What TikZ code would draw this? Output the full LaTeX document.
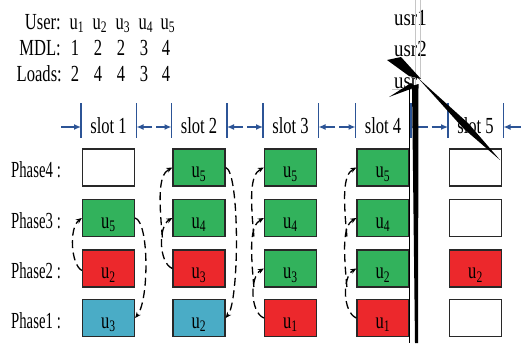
\documentclass[tikz,border=0pt]{standalone}
\usepackage{fontspec}
\setmainfont{Liberation Serif}[FakeStretch=0.72]
\newfontfamily\phfont{Liberation Serif}[FakeStretch=0.64]
\newfontfamily\usrfont{Liberation Serif}[FakeStretch=0.82]
\usetikzlibrary{arrows.meta,calc}
\definecolor{cgreen}{RGB}{50,178,92}
\definecolor{cred}{RGB}{236,40,44}
\definecolor{cblue}{RGB}{74,172,198}
\definecolor{bline}{RGB}{44,84,150}
\definecolor{edgec}{RGB}{40,40,40}
\newcommand\myfs{\fontsize{23}{26}\selectfont}
\begin{document}
\begin{tikzpicture}[x=1pt,y=-1pt,
  box/.style={draw=edgec, line width=1.3pt, minimum width=52pt, minimum height=37pt, inner sep=0pt, text height=20.5pt, text depth=0pt, font=\myfs},
  lbl/.style={inner sep=0pt, font=\myfs},
  sep/.style={draw=bline, line width=1.8pt},
  sarr/.style={draw=bline, line width=1.3pt, -{Latex[length=7pt,width=6pt]}},
  link/.style={draw=black, line width=1.3pt, dash pattern=on 8pt off 4.5pt, -{Stealth[length=6pt,width=5pt]}},
  blk/.style={fill=black, draw=none}]
\fill[white] (0,0) rectangle (521,343);
\useasboundingbox (0,0) rectangle (521,343);

% top table
\node[lbl, anchor=base east] (tU) at (61,29) {User:};
\node[lbl, anchor=base east] (tM) at (61,55) {MDL:};
\node[lbl, anchor=base east] (tL) at (62,81) {Loads:};
\foreach \i/\x/\m/\l in {1/77/1/2, 2/100/2/4, 3/123/2/4, 4/146/3/3, 5/168/4/4}{
  \node[lbl, anchor=base] (u\i) at (\x,29) {u\textsubscript{\i}};
  \node[lbl, anchor=base] (m\i) at (\x-2,55) {\m};
  \node[lbl, anchor=base] (l\i) at (\x-2,81) {\l};
}

% slot headers
\foreach \k/\cx in {1/108.5, 2/199, 3/290.5, 4/383, 5/475.5}{
  \node[lbl, anchor=base] (slot\k) at (\cx,133) {slot \k};
  \coordinate (L\k) at (\cx-27.5,127);
  \coordinate (R\k) at (\cx+28,127);
  \draw[sep] ([yshift=24pt]L\k) -- ([yshift=-11pt]L\k);
  \draw[sep] ([yshift=24pt]R\k) -- ([yshift=-11pt]R\k);
}
\coordinate (e0) at (61,127);
\coordinate (e6) at (521,127);
\draw[sarr] (e0) -- (L1);
\draw[sarr] (e6) -- (R5);
\foreach \a/\b in {1/2, 2/3, 3/4, 4/5}{
  \coordinate (mid\a) at ($(R\a)!0.5!(L\b)$);
}
\foreach \a/\b in {1/2, 2/3, 3/4, 4/5}{
  \draw[sarr] ([xshift=-2pt]mid\a) -- (R\a);
  \draw[sarr] ([xshift=2pt]mid\a) -- (L\b);
}

% phase labels
\node[lbl, font=\myfs\phfont, anchor=base west] (ph4) at (11,177.5) {Phase4\hspace{4pt}:};
\node[lbl, font=\myfs\phfont, anchor=base west] (ph3) at (11,228) {Phase3\hspace{4pt}:};
\node[lbl, font=\myfs\phfont, anchor=base west] (ph2) at (11,278.5) {Phase2\hspace{4pt}:};
\node[lbl, font=\myfs\phfont, anchor=base west] (ph1) at (11,328) {Phase1\hspace{4pt}:};

% boxes
\node[box, fill=white]  (s1p4) at (108.5,167.5) {};
\node[box, fill=cgreen] (s1p3) at (108.5,218) {u\textsubscript{5}};
\node[box, fill=cred]   (s1p2) at (108.5,268.5) {u\textsubscript{2}};
\node[box, fill=cblue]  (s1p1) at (108.5,318) {u\textsubscript{3}};

\node[box, fill=cgreen] (s2p4) at (199,167.5) {u\textsubscript{5}};
\node[box, fill=cgreen] (s2p3) at (199,218) {u\textsubscript{4}};
\node[box, fill=cred]   (s2p2) at (199,268.5) {u\textsubscript{3}};
\node[box, fill=cblue]  (s2p1) at (199,318) {u\textsubscript{2}};

\node[box, fill=cgreen] (s3p4) at (290.5,167.5) {u\textsubscript{5}};
\node[box, fill=cgreen] (s3p3) at (290.5,218) {u\textsubscript{4}};
\node[box, fill=cgreen] (s3p2) at (290.5,268.5) {u\textsubscript{3}};
\node[box, fill=cred]   (s3p1) at (290.5,318) {u\textsubscript{1}};

\node[box, fill=cgreen] (s4p4) at (383,167.5) {u\textsubscript{5}};
\node[box, fill=cgreen] (s4p3) at (383,218) {u\textsubscript{4}};
\node[box, fill=cgreen] (s4p2) at (383,268.5) {u\textsubscript{2}};
\node[box, fill=cred]   (s4p1) at (383,318) {u\textsubscript{1}};

\node[box, fill=white]  (s5p4) at (475.5,167.5) {};
\node[box, fill=white]  (s5p3) at (475.5,218) {};
\node[box, fill=cred]   (s5p2) at (475.5,268.5) {u\textsubscript{2}};
\node[box, fill=white]  (s5p1) at (475.5,318) {};

% dashed links
\draw[link] ([yshift=-2pt]s1p2.west) .. controls +(-11,-6) and +(-13,10) .. (s1p3.west);
\draw[link] (s1p3.east) .. controls +(14,4) and +(14,-18) .. (s1p1.east);

\draw[link] (s2p2.west) .. controls +(-14,-6) and +(-14,8) .. (s2p3.west);
\coordinate (j2) at (162.4,237.5);
\draw[link] (j2) .. controls (159,200) and (158,175) .. (s2p4.west);
\draw[link] (s2p4.east) .. controls +(14,3) and +(14,-18) .. (s2p1.east);

\draw[link] (s3p1.west) .. controls +(-14,-6) and +(-14,8) .. (s3p2.west);
\coordinate (j3a) at (253.9,287);
\coordinate (j3b) at (253.9,236.5);
\draw[link] (j3a) .. controls (250.5,250) and (249.5,226) .. (s3p3.west);
\draw[link] (j3b) .. controls (250.5,200) and (249.5,175) .. (s3p4.west);

\draw[link] (s4p1.west) .. controls +(-14,-6) and +(-14,8) .. (s4p2.west);
\coordinate (j4a) at (346.9,287);
\coordinate (j4b) at (346.9,236.5);
\draw[link] (j4a) .. controls (343.5,250) and (342.5,226) .. (s4p3.west);
\draw[link] (j4b) .. controls (343.5,200) and (342.5,175) .. (s4p4.west);

% stray labels and artefacts
\node[lbl, font=\myfs\usrfont, anchor=base west] (usr1) at (394,25) {usr1};
\node[lbl, font=\myfs\usrfont, anchor=base west] (usr2) at (394,56) {usr2};
\node[lbl, font=\myfs\usrfont, anchor=base west] (usr3) at (394,88) {usr};
\draw[gray!45, line width=0.4pt] (415,0) -- (415,90);
\draw[gray!45, line width=0.4pt] (420,0) -- (420,78);
\draw[gray!45, line width=0.4pt] (392,89) -- (418,89);
\draw[black, line width=0.9pt] (409.5,88) -- (409.5,343);
\fill[blk] (412,86) -- (418.5,84) -- (418,343) -- (415,343) -- cycle;
\fill[blk] (387,60) -- (401,57) -- (421,79) -- (409,76) -- cycle;
\fill[blk] (389,97) -- (411,83) -- (416,87) -- cycle;
\fill[blk] (418,78) -- (468.5,123.5) -- (500,160) -- (463.5,128.5) -- cycle;
\end{tikzpicture}
\end{document}
